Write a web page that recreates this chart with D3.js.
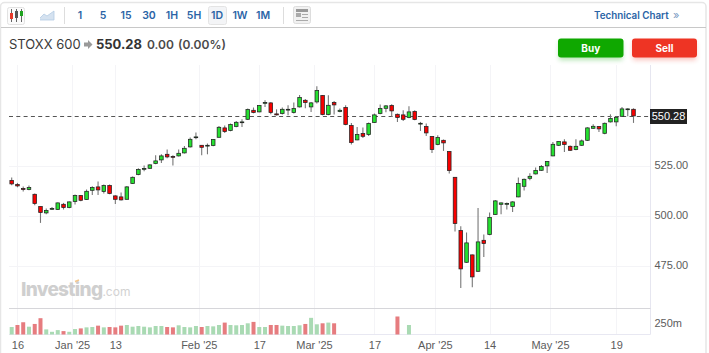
<!DOCTYPE html>
<html>
<head>
<meta charset="utf-8">
<script src="https://cdn.jsdelivr.net/npm/d3@7"></script>
<style>
html, body { margin: 0; padding: 0; background: #fff; overflow: hidden; }
svg { display: block; font-family: Inter, "Liberation Sans", sans-serif; }
.axis text { font-family: "Liberation Sans", Arial, sans-serif; font-size: 11px; fill: #5c5c5c; }
.axis path, .axis line { stroke: none; }
</style>
</head>
<body>
<script>
// values
const opens = [518,516,514,513.5,511.1,505,501.8,503.6,503.5,506.1,504.5,507.5,510.5,508.5,513.1,514.8,512.5,515.5,510.3,509.8,508.6,516.5,521,523.6,524.1,526.5,528.3,531.1,
  530,530.3,531.8,534.8,539.5,535.6,535.3,535.5,539.6,544.3,543,545,547,548.6,553.1,552.3,556.6,556.8,551.3,551.5,553.3,552,554.8,558.1,554.8,557.3,560.5,551,557,
  552.5,554.5,545.5,538.3,541.5,541,547,551.5,554.1,555.5,551.1,550.8,549.5,552.5,546.3,545,540,536,538.1,532.5,519.6,493,477.1,480.8,472.6,488.1,491,501,
  506.1,506.1,505,509.8,515.1,519.1,521.3,523.1,525.3,530.3,535.6,537.3,535.1,533.5,535.6,538.1,544.1,545,541.6,547.3,547.3,550.1,553.5,553.6];
const highs = [519.5,516.8,515,515.5,511.5,505,504,504.8,507,506.8,507.5,511,510.8,513.5,515.1,517.5,516,516,510.6,512,515.3,520,524.1,525.5,526.1,530.6,531.1,533.5,
  530.6,533.5,535.3,539.5,542,535.6,536.5,538.8,545.3,545.5,546.5,547.8,548.6,554,554.5,555.6,558.1,557.1,553.6,554.5,555.6,557,560.8,558.8,557.3,565.1,560.8,560.6,557.8,
  554,555.6,546.8,544.8,544.5,547,551.5,556,555.8,556.1,551.5,553.1,555.1,553.1,547.3,546.5,540.3,540.6,538.5,532.5,519.8,495.1,492,481,504.3,491,502,508.3,
  507,507,507.6,519.5,519,521.6,524.5,525.8,527.8,537.3,537.6,538.6,535.5,538.6,538.5,544.6,546.1,545.3,547,551.1,550.1,554.8,554.1,554.1];
const lows = [515.6,514.6,512.5,513.1,505.6,496.8,501.1,503.3,503.3,503.5,504.1,506,507.6,508.3,510.8,510.8,511.5,511.1,506.3,508,508.5,516.3,520.6,522.6,523.8,526.1,526.8,529.1,
  525.5,530,531.5,534.5,538.6,530.6,531.1,535.1,539.5,541.8,542.6,544.6,544.8,548.3,551.6,552.1,554.8,551.1,550.5,551,550.6,551.5,554.5,554.1,552.3,556.5,550.6,550.6,551,
  552.1,545.6,536,538.1,539.3,540.3,546.8,551.1,552.1,549.8,547.3,547.8,549.1,548.1,542.8,540.3,531.8,535.6,532.8,521.5,492.5,464.3,476.8,464.6,472.3,479.8,490.6,500.8,
  501.1,503.5,502.3,509.6,513,518.1,521,522.8,521.8,530.1,535.3,532.3,532.8,533.1,535.3,537.8,543.8,542.3,541.1,547,545.1,549.8,550.1,546.8];
const closes = [516.3,515.3,513.5,514.5,506.5,502,503,504,506.8,504.5,507.3,510.5,508.1,512.6,514.5,513.3,515.5,511.5,508.6,508.3,514.8,519.6,523.5,524,525.8,527.8,530.3,529.8,
  529.6,531.6,534.1,538.6,539.8,534.6,535.6,538.5,544.6,542.5,546,547.1,547.3,553.5,552,555.5,557,552,550.8,553.6,553.6,554,559.5,557,556.8,563,551,555.6,555.8,
  553.1,546,537,541,540.1,546.5,550.8,554,555.3,552.8,549.5,548.6,552.3,548.5,546.6,541.8,533.5,539.5,536.8,523,496.5,473.8,486.8,469.8,487.3,486.5,499.5,507.8,
  506.8,506.5,507.3,516.5,518.6,520.1,523,525,527.5,536.1,537.5,536,533.1,535.1,537.8,544.3,545.1,543.8,546.6,549,549.6,553.8,553.8,550.28];
// volume in millions, only the first bars and two later ones are shown in the source
const volumes = [172,218,281,179,242,374,117,62,101,78,62,125,140,164,172,203,164,172,164,203,218,179,195,179,164,195,195,172,164,211,172,164,195,172,195,187,218,273,218,211,218,257,289,172,172,218,218,203,195,195,211,242,382,234,257,273,257];
const laterVolumes = [[67, 413], [69, 218]];

const priceTicks = [475, 500, 525];
const lastPrice = 550.28;
const timeTickPos = [1, 10.5, 18, 32.5, 43, 52.5, 63, 73.5, 83, 93.5, 105];
const timeTickLabels = ["16", "Jan '25", "13", "Feb '25", "17", "Mar '25", "17", "Apr '25", "14", "May '25", "19"];
const intervals = ["1", "5", "15", "30", "1H", "5H", "1D", "1W", "1M"];
const intervalX = [80, 103, 126, 149, 172, 194, 217, 240, 263];

const width = 709, height = 353;
const blue = "#2b64a6";
const plotLeft = 9, plotRight = 650.5, plotTop = 65, volTop = 308.5, plotBottom = 334.5;

const svg = d3.select("body").append("svg").attr("width", width).attr("height", height);

const x = d3.scaleLinear().domain([0, 108]).range([11.7, 633.5]);
const y = d3.scaleLinear().domain([475, 525]).range([266.5, 166.5]);
const v = d3.scaleLinear().domain([0, 250]).range([plotBottom, 323.6]);

// card and toolbar
svg.append("rect").attr("x", 0.5).attr("y", 2.5).attr("width", 705.5).attr("height", 360).attr("rx", 4)
  .attr("fill", "#fff").attr("stroke", "#e6e6e6").attr("stroke-width", 1.5);
svg.append("line").attr("x1", 1).attr("x2", 706).attr("y1", 27.5).attr("y2", 27.5).attr("stroke", "#c8c8c8").attr("stroke-width", 1.2);
[64.5, 283.5].forEach(sx => svg.append("line").attr("x1", sx).attr("x2", sx).attr("y1", 7).attr("y2", 24).attr("stroke", "#ddd"));

// candle icon
svg.append("rect").attr("x", 7.5).attr("y", 7.5).attr("width", 17).attr("height", 17).attr("rx", 2).attr("fill", "#fbfbfb").attr("stroke", "#e2e2e2");
[[11.5, "#e8392b", 13, 19], [16.5, "#555", 11, 18], [21.5, "#1fa31f", 11, 16]].forEach(d => {
  svg.append("line").attr("x1", d[0]).attr("x2", d[0]).attr("y1", 9).attr("y2", 22).attr("stroke", "#666");
  svg.append("rect").attr("x", d[0] - 1.5).attr("y", d[2]).attr("width", 3).attr("height", d[3] - d[2]).attr("fill", d[1]);
});
// area icon
svg.append("path").attr("d", d3.line()([[40, 18], [44, 14], [47, 16], [54, 11], [54, 20], [40, 20]]))
  .attr("fill", "#d5e2f0").attr("stroke", "#b4cbe3").attr("stroke-width", 0.8);

// interval buttons
svg.append("rect").attr("x", 208.5).attr("y", 6.5).attr("width", 18).attr("height", 18).attr("rx", 2).attr("fill", "#f3f4f6").attr("stroke", "#e4e4e4");
svg.selectAll(".interval").data(intervals).enter().append("text")
  .attr("class", "interval")
  .attr("x", (d, i) => intervalX[i]).attr("y", 19)
  .attr("text-anchor", "middle").attr("font-size", 10.5).attr("font-weight", 600).attr("fill", blue)
  .text(d => d);

// layout icon
svg.append("rect").attr("x", 293.5).attr("y", 6.5).attr("width", 17).attr("height", 17).attr("rx", 2).attr("fill", "#f1f1f1").attr("stroke", "#ddd");
svg.append("rect").attr("x", 296).attr("y", 9).attr("width", 12).attr("height", 3).attr("fill", "#999");
svg.append("rect").attr("x", 296).attr("y", 13).attr("width", 5).attr("height", 4).attr("fill", "#aaa");
[14, 17, 20].forEach(ly => svg.append("line").attr("x1", ly === 20 ? 296 : 302).attr("x2", 308).attr("y1", ly + 0.5).attr("y2", ly + 0.5).attr("stroke", "#aaa"));

svg.append("text").attr("x", 594).attr("y", 19).attr("font-size", 9.8).attr("font-weight", 600).attr("fill", blue).text("Technical Chart");
svg.append("text").attr("x", 673).attr("y", 19).attr("font-size", 11).attr("fill", "#7a9cc4").text("»");

// title
svg.append("text").attr("x", 9).attr("y", 49).attr("font-size", 13).attr("fill", "#3a3a3a").text("STOXX 600");
svg.append("path").attr("d", "M84 42.5h4v-2.5l4.5 4.500l-4.500 4.500v-2.500h-4z").attr("fill", "#999");
svg.append("text").attr("x", 96).attr("y", 49).attr("font-size", 13).attr("font-weight", 700).attr("fill", "#333").text("550.28");
svg.append("text").attr("x", 147).attr("y", 49).attr("font-size", 12).attr("font-weight", 600).attr("fill", "#4a4a4a").text("0.00");
svg.append("text").attr("x", 178).attr("y", 49).attr("font-size", 12).attr("font-weight", 600).attr("fill", "#4a4a4a").text("(0.00%)");

// buy / sell
const shadow = svg.append("defs").append("filter").attr("id", "soft").attr("x", "-20%").attr("y", "-30%").attr("width", "140%").attr("height", "180%");
shadow.append("feGaussianBlur").attr("stdDeviation", 2.5);
[[558, 65.5, "#0fa800", "Buy"], [632, 65, "#ee3424", "Sell"]].forEach(b => {
  svg.append("rect").attr("x", b[0] + 1).attr("y", 42).attr("width", b[1] - 2).attr("height", 18).attr("fill", b[2]).attr("opacity", 0.3).attr("filter", "url(#soft)");
  svg.append("rect").attr("x", b[0]).attr("y", 38.5).attr("width", b[1]).attr("height", 19).attr("rx", 3).attr("fill", b[2]);
  svg.append("text").attr("x", b[0] + b[1] / 2).attr("y", 51.5).attr("text-anchor", "middle")
    .attr("font-size", 10).attr("font-weight", 700).attr("fill", "#fff").text(b[3]);
});

// grid
const grid = svg.append("g").attr("stroke", "#f4f4f7");
grid.selectAll(".gx").data(timeTickPos).enter().append("line")
  .attr("x1", d => Math.round(x(d)) + 0.5).attr("x2", d => Math.round(x(d)) + 0.5)
  .attr("y1", plotTop).attr("y2", plotBottom);
grid.selectAll(".gy").data(priceTicks).enter().append("line")
  .attr("x1", plotLeft).attr("x2", plotRight).attr("y1", d => y(d)).attr("y2", d => y(d));

// watermark
const logo = svg.append("text").attr("x", 21).attr("y", 296);
logo.append("tspan").attr("font-size", 19).attr("font-weight", 800).attr("fill", "#cfcfcf").attr("letter-spacing", -0.7).text("Investing");
logo.append("tspan").attr("font-size", 12).attr("fill", "#d2d2d2").text(".com");
svg.append("line").attr("x1", 75).attr("x2", 79).attr("y1", 281.5).attr("y2", 280).attr("stroke", "#f4c78d").attr("stroke-width", 1.5);

// frame lines
svg.append("line").attr("x1", plotRight).attr("x2", plotRight).attr("y1", plotTop).attr("y2", plotBottom).attr("stroke", "#e6e6f0");
svg.append("line").attr("x1", plotLeft).attr("x2", plotRight).attr("y1", volTop).attr("y2", volTop).attr("stroke", "#d6d6da").attr("stroke-width", 1.2);
svg.append("line").attr("x1", plotLeft).attr("x2", plotRight).attr("y1", plotBottom).attr("y2", plotBottom).attr("stroke", "#e8e8f2");

// volume
const volBars = volumes.map((val, i) => ({ i: i, val: val, up: i === 0 || closes[i] >= opens[i] }))
  .concat(laterVolumes.map(d => ({ i: d[0], val: d[1], up: closes[d[0]] >= opens[d[0]] })));
svg.selectAll(".vol").data(volBars).enter().append("rect")
  .attr("class", "vol")
  .attr("x", d => x(d.i) - 2).attr("width", 4)
  .attr("y", d => v(d.val)).attr("height", d => plotBottom - v(d.val))
  .attr("fill", d => d.up ? "#a9dab3" : "#e67c7f");

// last price line
svg.append("line").attr("x1", plotLeft).attr("x2", plotRight).attr("y1", 116.5).attr("y2", 116.5)
  .attr("stroke", "#555").attr("stroke-dasharray", "4 3.3");

// candles
const candles = d3.range(opens.length);
const candle = svg.selectAll(".candle").data(candles).enter().append("g").attr("class", "candle");
candle.append("line")
  .attr("x1", i => x(i)).attr("x2", i => x(i))
  .attr("y1", i => y(highs[i])).attr("y2", i => y(lows[i]))
  .attr("stroke", "#777").attr("stroke-width", 1.1);
candle.append("rect")
  .attr("x", i => x(i) - 1.8)
  .attr("width", 3.6)
  .attr("y", i => y(Math.max(opens[i], closes[i])))
  .attr("height", i => Math.max(0.8, Math.abs(y(opens[i]) - y(closes[i]))))
  .attr("fill", i => closes[i] >= opens[i] ? "#25e030" : "#f80000")
  .attr("stroke", "#222").attr("stroke-width", 0.75);

// axes
const priceAxis = d3.axisRight(y).tickValues(priceTicks).tickSize(0).tickPadding(4).tickFormat(d3.format(".2f"));
svg.append("g").attr("class", "axis").attr("transform", `translate(${plotRight},0)`).call(priceAxis)
  .selectAll("text").attr("dy", "0.2em");

const volAxis = d3.axisRight(v).tickValues([250]).tickSize(0).tickPadding(4).tickFormat(d => d + "m");
svg.append("g").attr("class", "axis").attr("transform", `translate(${plotRight},0)`).call(volAxis)
  .selectAll("text").attr("dy", "0.26em");

const timeAxis = d3.axisBottom(x).tickValues(timeTickPos).tickSize(0).tickPadding(7)
  .tickFormat((d, i) => timeTickLabels[i]);
svg.append("g").attr("class", "axis").attr("transform", `translate(0,${plotBottom})`).call(timeAxis);

// last price tag
svg.append("rect").attr("x", 650).attr("y", 109).attr("width", 37).attr("height", 15).attr("fill", "#222");
svg.append("text").attr("x", 668.5).attr("y", 120.2).attr("text-anchor", "middle")
  .attr("font-family", "Liberation Sans, Arial, sans-serif").attr("font-size", 11).attr("fill", "#fff").text(lastPrice.toFixed(2));
</script>
</body>
</html>
